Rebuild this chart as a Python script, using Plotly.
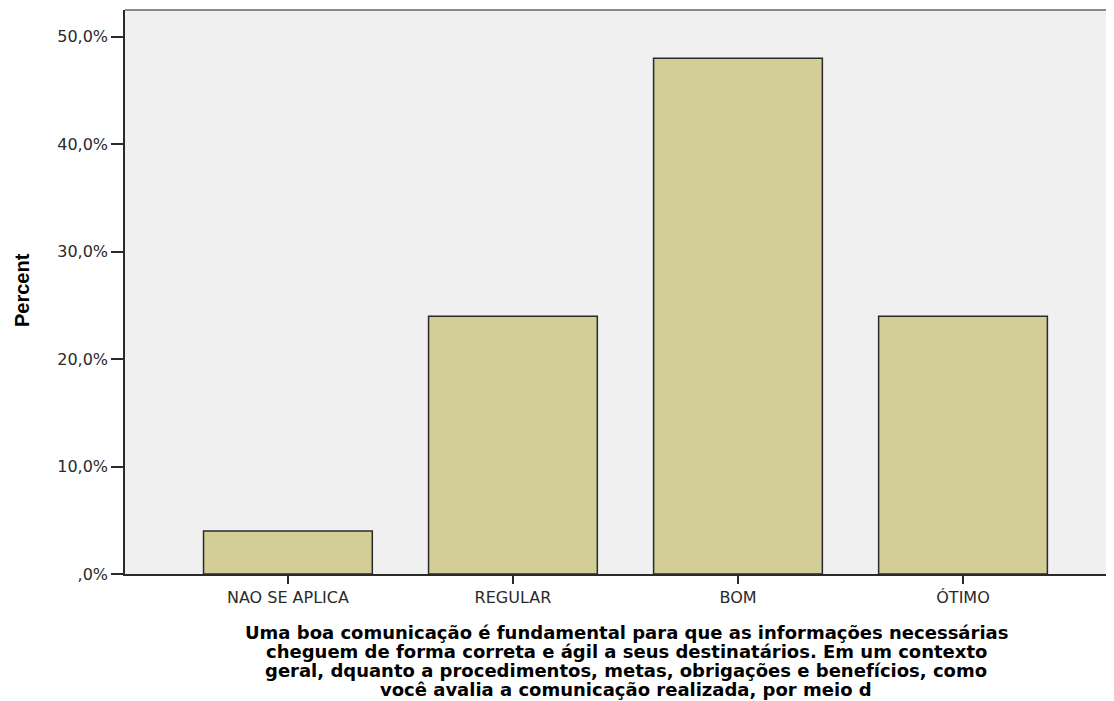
import plotly.graph_objects as go

# Data
categories = ["NAO SE APLICA", "REGULAR", "BOM", "ÓTIMO"]
percent = [4.0, 24.0, 48.0, 24.0]
y_tick_vals = [0, 10, 20, 30, 40, 50]
y_tick_text = [",0%", "10,0%", "20,0%", "30,0%", "40,0%", "50,0%"]

x_title_lines = [
    "Uma boa comunicação é fundamental para que as informações necessárias",
    "cheguem de forma correta e ágil a seus destinatários. Em um contexto",
    "geral, dquanto a procedimentos, metas, obrigações e benefícios, como",
    "você avalia a comunicação realizada, por meio d",
]

# page body adds an 8px margin, so the figure is sized to fit the window
W, H = 1106, 693
L, T, B = 117, 2, 127
plot_h = H - T - B

fig = go.Figure()

fig.add_trace(go.Bar(
    x=list(range(len(categories))),
    y=percent,
    width=0.75,
    marker=dict(color="#d3ce97", line=dict(color="#2a2a2a", width=1.5)),
    showlegend=False,
))

fig.update_layout(
    width=W,
    height=H,
    margin=dict(l=L, r=0, t=T, b=B),
    paper_bgcolor="white",
    plot_bgcolor="#f0f0f0",
    font=dict(family="DejaVu Sans", size=16, color="#2a2a2a"),
    xaxis=dict(
        range=[-0.724, 3.671],
        tickvals=list(range(len(categories))),
        ticktext=categories,
        ticks="outside", ticklen=8, tickcolor="#2a2a2a", tickwidth=1.5,
        showgrid=False, zeroline=False,
        showline=True, linecolor="#2a2a2a", linewidth=1.5,
    ),
    yaxis=dict(
        range=[0, 52.5],
        tickvals=y_tick_vals,
        ticktext=y_tick_text,
        ticks="outside", ticklen=12, tickcolor="#2a2a2a", tickwidth=1.5,
        showgrid=False, zeroline=False,
        showline=True, linecolor="#2a2a2a", linewidth=1.5,
    ),
)

# gray top border of the plot frame
fig.add_shape(type="line", xref="paper", yref="paper", x0=0, x1=1, y0=1, y1=1,
              line=dict(color="#8a8a8a", width=2))

# y axis title
fig.add_annotation(
    text="<b>Percent</b>",
    xref="paper", yref="paper",
    x=(14 - L) / (W - L), y=0.5035,
    xanchor="center", yanchor="middle",
    textangle=-90, showarrow=False,
    font=dict(family="Liberation Sans", size=20, color="black"),
)

# x axis title, one annotation per line
line_centers = [624, 643, 662, 681]
for text, yc in zip(x_title_lines, line_centers):
    fig.add_annotation(
        text="<b>" + text + "</b>",
        xref="paper", yref="paper",
        x=(618 - L) / (W - L), y=(H - B - yc) / plot_h,
        xanchor="center", yanchor="middle",
        showarrow=False,
        font=dict(family="DejaVu Sans", size=18, color="black"),
    )

fig.write_html("out.html")
